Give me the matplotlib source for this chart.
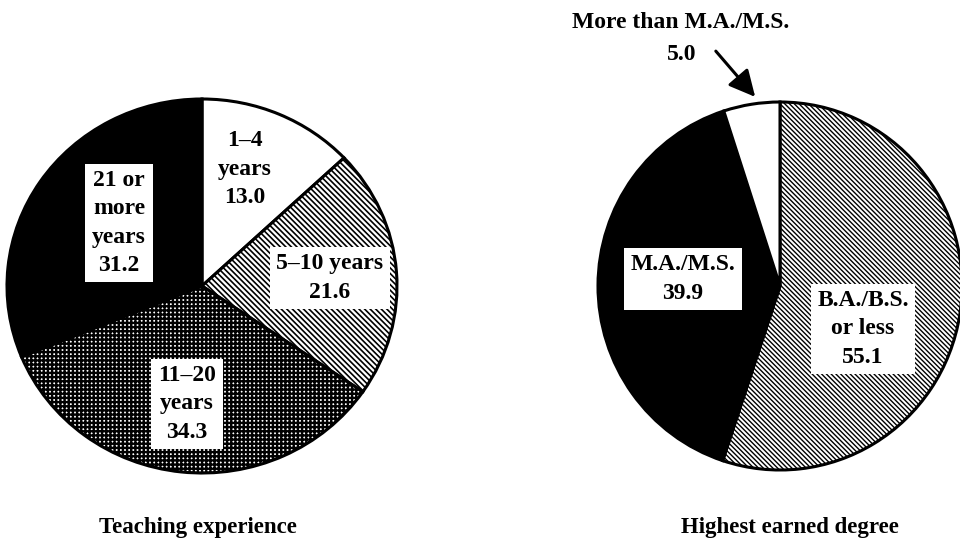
import matplotlib
matplotlib.use("Agg")
import matplotlib.pyplot as plt

# ---- data ----
exp_labels = ["1\u20134\nyears", "5\u201310 years", "11\u201320\nyears", "21 or\nmore\nyears"]
exp_values = [13.0, 21.6, 34.3, 31.2]
deg_labels = ["B.A./B.S.\nor less", "M.A./M.S.", "More than M.A./M.S."]
deg_values = [55.1, 39.9, 5.0]
titles = ["Teaching experience", "Highest earned degree"]

W, H = 960, 546
fig = plt.figure(figsize=(W / 100, H / 100), dpi=100)
fig.patch.set_facecolor("white")

FONT = dict(family="Liberation Serif", weight="bold")
FS = 17


def fx(x):
    return x / W


def fy(y):
    return 1 - y / H


def pie_axes(x0, y0, x1, y1):
    return fig.add_axes([fx(x0), fy(y1), (x1 - x0) / W, (y1 - y0) / H])


def draw_pie(ax, values, faces, hatches, hatch_lws):
    wedges, _ = ax.pie(values, startangle=90, counterclock=False, radius=1,
                       colors=faces,
                       wedgeprops=dict(edgecolor="black", linewidth=2.2))
    for w, h, hl in zip(wedges, hatches, hatch_lws):
        w.set_clip_on(False)
        if h:
            w.set_hatch(h)
            try:
                w.set_hatch_linewidth(hl)
            except Exception:
                pass
    ax.set_xlim(-1, 1)
    ax.set_ylim(-1, 1)
    ax.set_aspect("auto")
    ax.axis("off")
    return wedges


# ---- left pie ----
axL = pie_axes(7, 99, 397, 473)
draw_pie(axL, exp_values,
         ["white", "white", "white", "black"],
         [None, "\\" * 6, "+" * 4, None],
         [1.0, 1.2, 1.7, 1.0])

# ---- right pie ----
axR = pie_axes(598, 102, 962, 470)
draw_pie(axR, deg_values,
         ["white", "black", "white"],
         ["\\" * 7, None, None],
         [1.0, 1.1, 1.0])

box = dict(boxstyle="square,pad=0.28", facecolor="white", edgecolor="none")


def label(x, y, s, boxed=True):
    fig.text(fx(x), fy(y), s, ha="center", va="center", fontsize=FS,
             linespacing=1.45, bbox=box if boxed else None, **FONT)


label(245, 169, f"{exp_labels[0]}\n{exp_values[0]:.1f}", boxed=False)
label(330, 278, f"{exp_labels[1]}\n{exp_values[1]:.1f}")
label(187, 404, f"{exp_labels[2]}\n{exp_values[2]:.1f}")
label(119, 223, f"{exp_labels[3]}\n{exp_values[3]:.1f}")

label(683, 279, f"{deg_labels[1]}\n{deg_values[1]:.1f}")
label(863, 329, f"{deg_labels[0]}\n{deg_values[0]:.1f}")

# small slice label with arrow
fig.text(fx(681), fy(28), deg_labels[2], ha="center", va="baseline", fontsize=FS, **FONT)
fig.text(fx(682), fy(60), f"{deg_values[2]:.1f}", ha="center", va="baseline", fontsize=FS, **FONT)
fig.add_artist(matplotlib.patches.FancyArrowPatch(
    (fx(714), fy(49)), (fx(757), fy(99)), transform=fig.transFigure,
    arrowstyle="-|>,head_length=10,head_width=5", color="black", linewidth=2.2,
    mutation_scale=1.6))

# titles
fig.text(fx(198), fy(533), titles[0], ha="center", va="baseline", fontsize=16.5, **FONT)
fig.text(fx(790), fy(533), titles[1], ha="center", va="baseline", fontsize=16.5, **FONT)

fig.savefig("out.png", dpi=100, facecolor="white")
